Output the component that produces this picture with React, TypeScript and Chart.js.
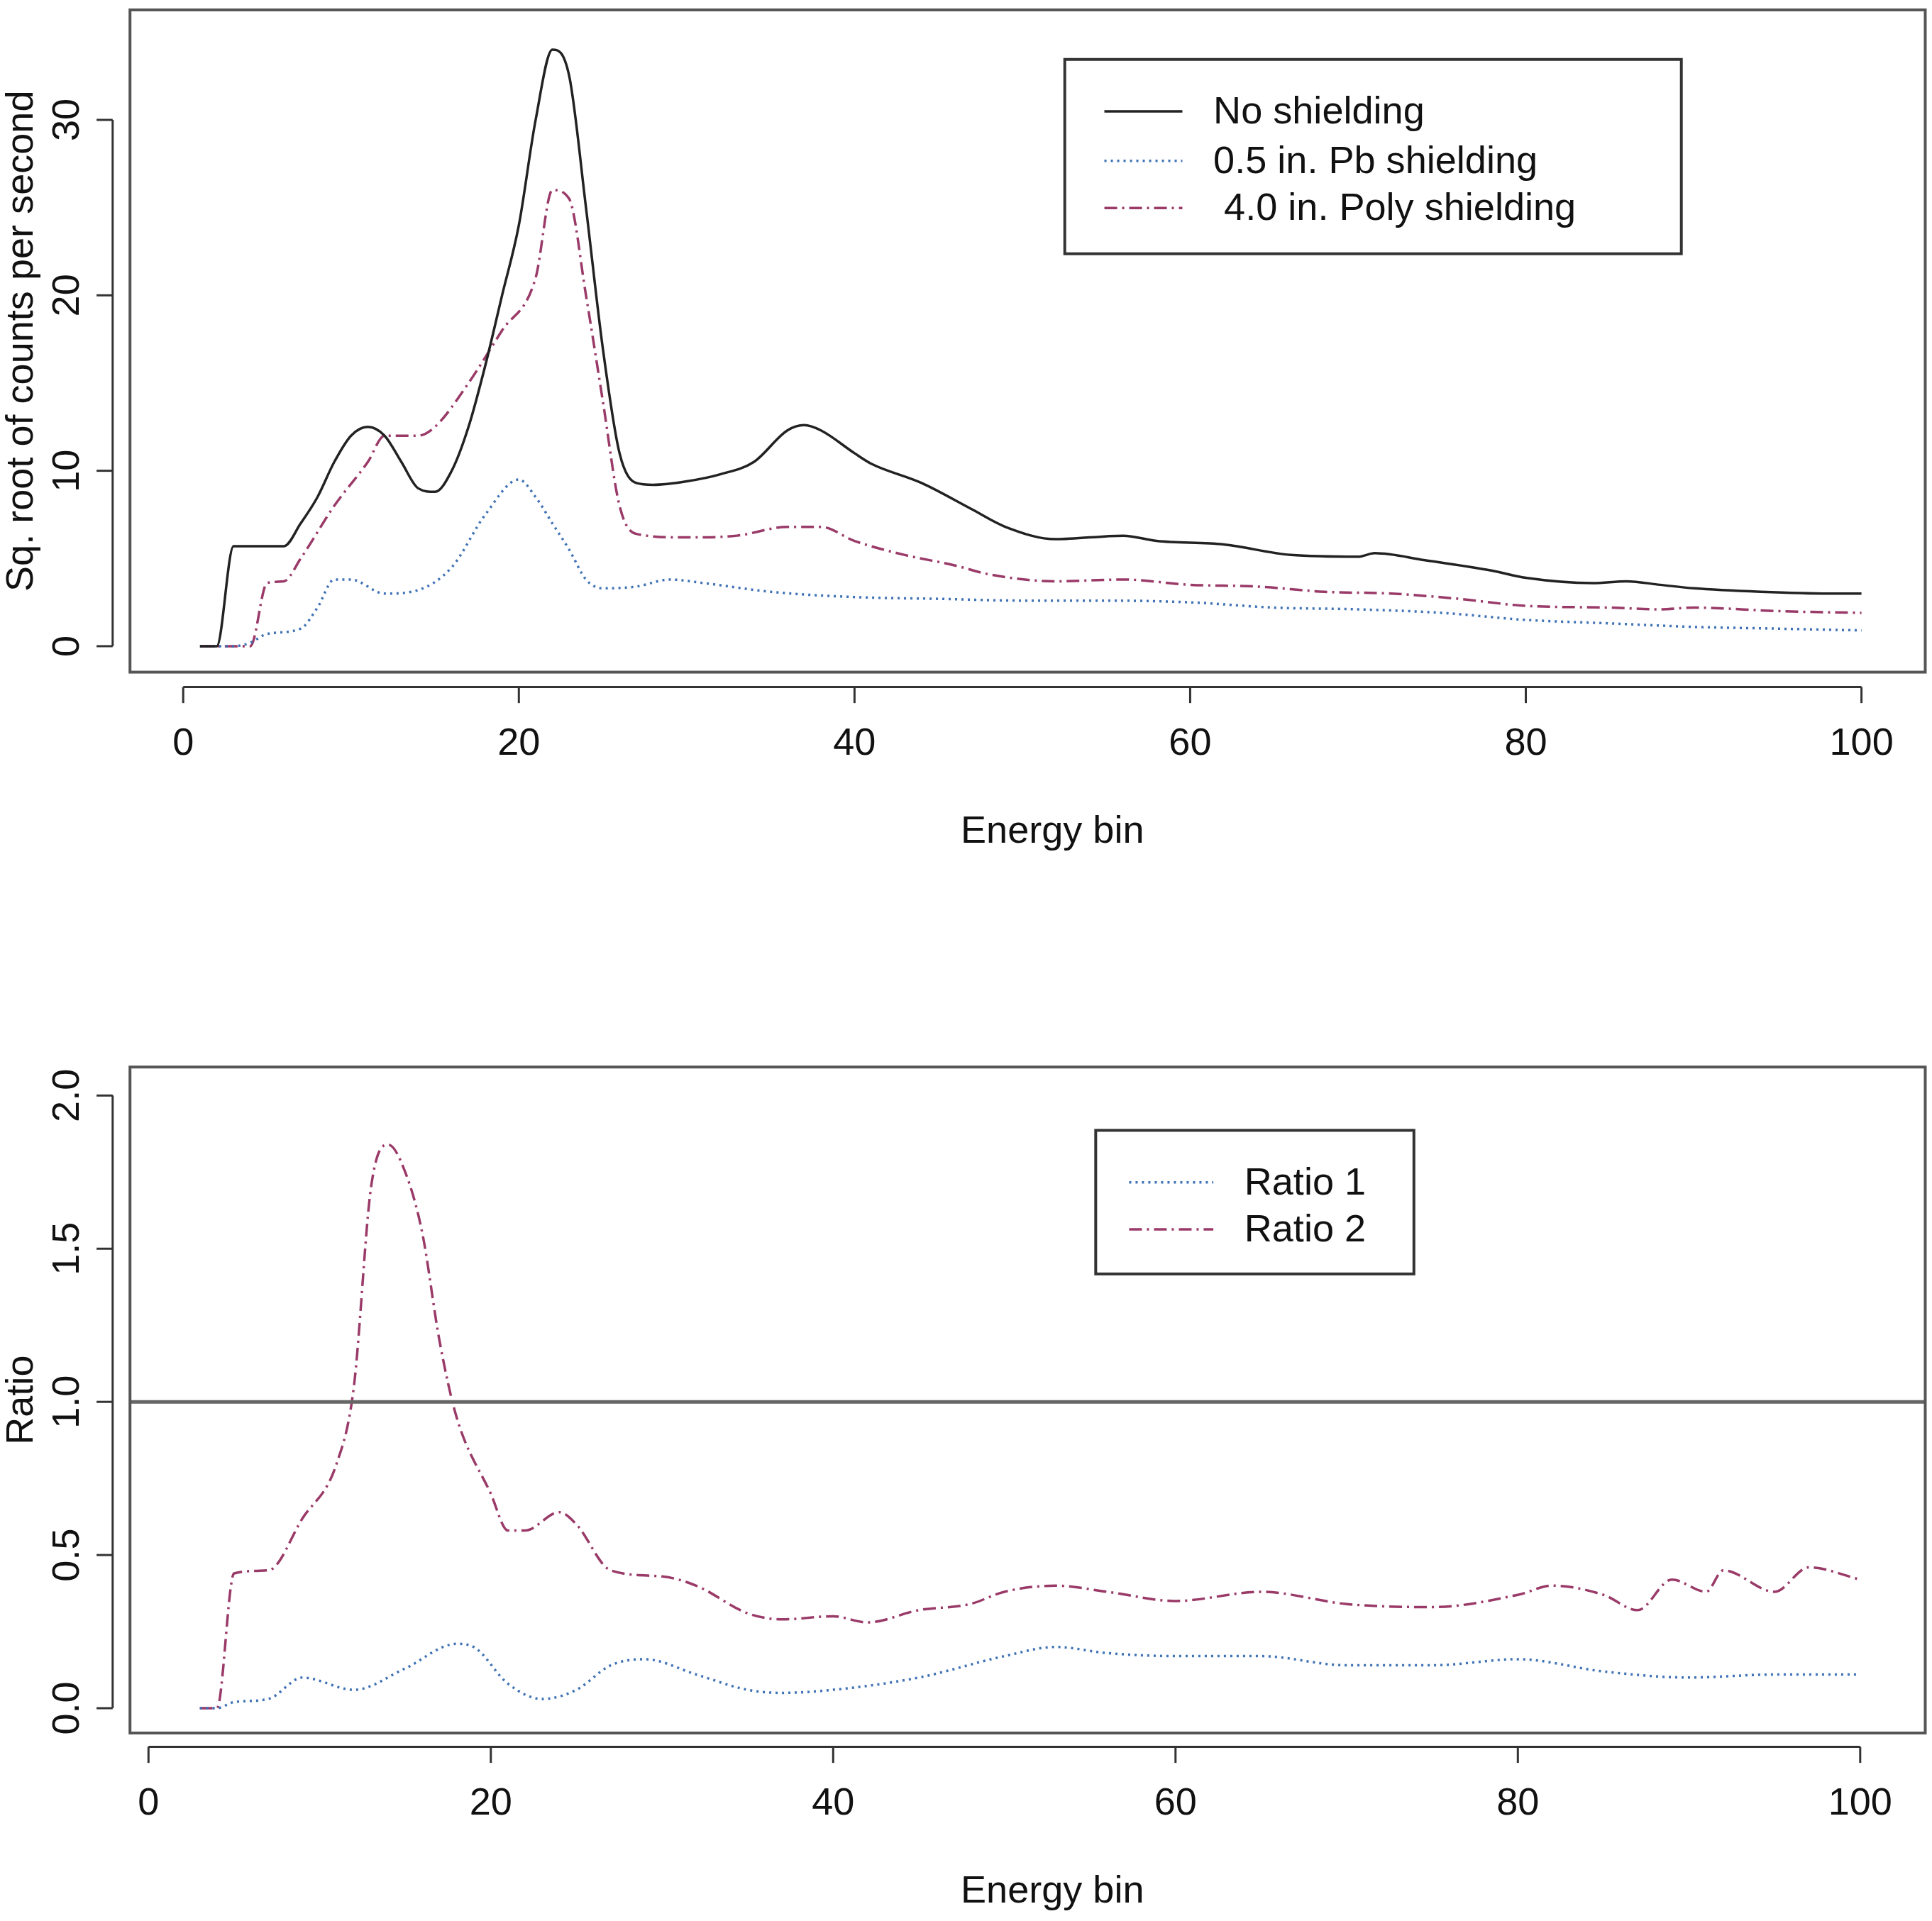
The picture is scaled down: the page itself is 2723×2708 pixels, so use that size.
import React, { useEffect, useRef } from "react";
import { Chart, registerables } from "chart.js";
Chart.register(...registerables);

const S = 1.745;
const FONT = "Liberation Sans, Arial, sans-serif";

// Top panel data
const noShieldX = [1,2,3,4,5,6,7,8,9,10,11,12,13,14,15,16,17,18,19,20,21,22,23,24,25,26,27,28,30,32,34,36,37,38,40,41,44,47,49,52,56,58,62,66,70,71,74,78,80,84,86,88,90,94,98,100];
const noShieldY = [0,0,5.7,5.7,5.7,5.7,7,8.5,10.5,12,12.5,12,10.5,9,8.8,10,12.5,16,20,24,30,34,32.5,25,17,11,9.3,9.2,9.4,9.8,10.5,12.3,12.6,12.3,11,10.4,9.3,7.8,6.8,6.1,6.3,6,5.8,5.2,5.1,5.3,4.9,4.3,3.9,3.6,3.7,3.5,3.3,3.1,3.0,3.0];
const pbX = [1,3,4,5,7,8,9,10,12,14,16,18,20,21,22,23,24,25,27,29,31,35,40,45,50,55,60,65,70,75,80,85,90,95,100];
const pbY = [0,0,0.2,0.7,1,2.2,3.8,3.8,3,3.2,4.5,7.5,9.5,8.5,7,5.5,3.8,3.3,3.4,3.8,3.6,3.1,2.8,2.7,2.6,2.6,2.5,2.2,2.1,1.9,1.5,1.3,1.1,1.0,0.9];
const polyX = [1,4,5,6,7,9,11,12,14,15,17,19,21,22,23,24,25,26,27,30,33,36,38,40,43,46,48,52,56,60,64,68,72,76,80,85,88,90,95,100];
const polyY = [0,0,3.6,3.7,5,8,10.5,12,12,12.5,15,18,21,26,25.5,20,14,8,6.4,6.2,6.3,6.8,6.8,6.0,5.2,4.6,4.1,3.7,3.8,3.5,3.4,3.1,3.0,2.7,2.3,2.2,2.1,2.2,2.0,1.9];

// Bottom panel data
const r1X = [3,4,5,7,9,12,15,18,19,21,23,25,27,29,32,35,37,40,45,50,53,56,60,65,70,75,80,85,90,95,100];
const r1Y = [0,0,0.02,0.03,0.1,0.06,0.13,0.21,0.2,0.08,0.03,0.06,0.14,0.16,0.11,0.06,0.05,0.06,0.1,0.17,0.2,0.18,0.17,0.17,0.14,0.14,0.16,0.12,0.1,0.11,0.11];
const r2X = [3,4,5,7,9,11,12,13,14,15,16,17,18,20,21,22,24,25,27,30,32,35,37,40,42,45,48,50,53,56,60,65,70,75,80,82,85,87,89,91,92,95,97,100];
const r2Y = [0,0,0.44,0.45,0.62,0.8,1.05,1.7,1.84,1.75,1.55,1.2,0.95,0.7,0.58,0.58,0.64,0.6,0.45,0.43,0.4,0.31,0.29,0.3,0.28,0.32,0.34,0.38,0.4,0.38,0.35,0.38,0.34,0.33,0.37,0.4,0.37,0.32,0.42,0.38,0.45,0.38,0.46,0.42];

const topXTicks = [0,20,40,60,80,100];
const topYTicks = [0,10,20,30];
const botXTicks = [0,20,40,60,80,100];
const botYTicks = [0,0.5,1.0,1.5,2.0];
const botYLabels = ["0.0","0.5","1.0","1.5","2.0"];

const BLACK = "#222222";
const BLUE = "#3f72b5";
const PURPLE = "#9a3a68";
const DOT = [3, 6];
const DASHDOT = [18, 7, 3, 7];

const zip = (xs: number[], ys: number[]) => xs.map((x, i) => ({ x, y: ys[i] }));

type Leg = { label: string; color: string; dash: number[] };
type Cfg = {
  width: number; height: number;
  area: { l: number; r: number; t: number; b: number };
  xmin: number; xmax: number; ymin: number; ymax: number;
  xTicks: number[]; yTicks: number[]; yLabels: string[];
  xAxisLineY: number; yAxisLineX: number;
  yLabel: string; yLabelX: number;
  legend: { l: number; t: number; r: number; b: number; lineX0: number; lineX1: number; textX: number; rows: number[]; items: Leg[] };
  datasets: any[];
  hline?: number;
};

function makePlugin(c: Cfg) {
  return {
    id: "rstyle",
    afterDatasetsDraw(chart: any) {
      const ctx = chart.ctx;
      const xs = chart.scales.x, ys = chart.scales.y;
      const a = chart.chartArea;
      ctx.save();
      if (c.hline !== undefined) {
        ctx.strokeStyle = "#666"; ctx.lineWidth = 5; ctx.setLineDash([]);
        const y = ys.getPixelForValue(c.hline);
        ctx.beginPath(); ctx.moveTo(a.left, y); ctx.lineTo(a.right, y); ctx.stroke();
      }
      ctx.strokeStyle = "#555"; ctx.lineWidth = 4; ctx.setLineDash([]);
      ctx.strokeRect(a.left, a.top, a.right - a.left, a.bottom - a.top);
      ctx.strokeStyle = "#333"; ctx.lineWidth = 3;
      const xl = c.xAxisLineY * S;
      ctx.beginPath();
      ctx.moveTo(xs.getPixelForValue(c.xTicks[0]), xl);
      ctx.lineTo(xs.getPixelForValue(c.xTicks[c.xTicks.length - 1]), xl);
      ctx.stroke();
      ctx.fillStyle = "#111"; ctx.font = `${31 * S}px ${FONT}`;
      ctx.textAlign = "center"; ctx.textBaseline = "middle";
      c.xTicks.forEach((t) => {
        const px = xs.getPixelForValue(t);
        ctx.beginPath(); ctx.moveTo(px, xl); ctx.lineTo(px, xl + 13 * S); ctx.stroke();
        ctx.fillText(String(t), px, xl + 46 * S);
      });
      ctx.fillText("Energy bin", (a.left + a.right) / 2 + 20 * S, xl + 117 * S);
      const yl = c.yAxisLineX * S;
      ctx.beginPath();
      ctx.moveTo(yl, ys.getPixelForValue(c.yTicks[0]));
      ctx.lineTo(yl, ys.getPixelForValue(c.yTicks[c.yTicks.length - 1]));
      ctx.stroke();
      c.yTicks.forEach((t, i) => {
        const py = ys.getPixelForValue(t);
        ctx.beginPath(); ctx.moveTo(yl, py); ctx.lineTo(yl - 13 * S, py); ctx.stroke();
        ctx.save(); ctx.translate(yl - 36 * S, py); ctx.rotate(-Math.PI / 2);
        ctx.fillText(c.yLabels[i], 0, 0); ctx.restore();
      });
      ctx.save(); ctx.translate(c.yLabelX * S, (a.top + a.bottom) / 2); ctx.rotate(-Math.PI / 2);
      ctx.fillText(c.yLabel, 0, 0); ctx.restore();
      const L = c.legend;
      ctx.fillStyle = "#fff";
      ctx.fillRect(L.l * S, L.t * S, (L.r - L.l) * S, (L.b - L.t) * S);
      ctx.strokeStyle = "#333"; ctx.lineWidth = 4;
      ctx.strokeRect(L.l * S, L.t * S, (L.r - L.l) * S, (L.b - L.t) * S);
      ctx.textAlign = "left";
      L.items.forEach((it, i) => {
        const y = L.rows[i] * S;
        ctx.strokeStyle = it.color; ctx.lineWidth = 3.5; ctx.setLineDash(it.dash);
        ctx.beginPath(); ctx.moveTo(L.lineX0 * S, y); ctx.lineTo(L.lineX1 * S, y); ctx.stroke();
        ctx.setLineDash([]);
        ctx.fillStyle = "#111";
        ctx.fillText(it.label, L.textX * S, y + 2);
      });
      ctx.restore();
    },
  };
}

function Panel({ c }: { c: Cfg }) {
  const ref = useRef<HTMLCanvasElement>(null);
  useEffect(() => {
    const ch = new Chart(ref.current!, {
      type: "line",
      data: { datasets: c.datasets },
      options: {
        animation: false, responsive: false, devicePixelRatio: 1,
        layout: { padding: { left: c.area.l, right: c.width - c.area.r, top: c.area.t, bottom: c.height - c.area.b } },
        plugins: { legend: { display: false }, tooltip: { enabled: false } },
        elements: { point: { radius: 0 }, line: { cubicInterpolationMode: "monotone", borderWidth: 3.5 } },
        scales: {
          x: { type: "linear", min: c.xmin, max: c.xmax, display: false },
          y: { type: "linear", min: c.ymin, max: c.ymax, display: false },
        },
      },
      plugins: [makePlugin(c)],
    });
    return () => ch.destroy();
  }, []);
  return <canvas ref={ref} width={c.width} height={c.height} style={{ display: "block", width: c.width, height: c.height }} />;
}

const ds = (label: string, xs: number[], ys: number[], color: string, dash: number[]) => ({
  label, data: zip(xs, ys), borderColor: color, borderDash: dash, fill: false,
});

const topCfg: Cfg = {
  width: 2723, height: 1220,
  area: { l: 105 * S, r: 1555 * S, t: 8 * S, b: 543 * S },
  xmin: -3.17, xmax: 103.8, ymin: -1.48, ymax: 36.27,
  xTicks: topXTicks, yTicks: topYTicks, yLabels: topYTicks.map(String),
  xAxisLineY: 555, yAxisLineX: 91, yLabel: "Sq. root of counts per second", yLabelX: 18,
  legend: { l: 860, t: 48, r: 1358, b: 205, lineX0: 892, lineX1: 955, textX: 980, rows: [90, 130, 168],
    items: [
      { label: "No shielding", color: BLACK, dash: [] },
      { label: "0.5 in. Pb shielding", color: BLUE, dash: DOT },
      { label: " 4.0 in. Poly shielding", color: PURPLE, dash: DASHDOT },
    ] },
  datasets: [
    ds("No shielding", noShieldX, noShieldY, BLACK, []),
    ds("Pb", pbX, pbY, BLUE, DOT),
    ds("Poly", polyX, polyY, PURPLE, DASHDOT),
  ],
};

const botCfg: Cfg = {
  width: 2723, height: 1488,
  area: { l: 105 * S, r: 1555 * S, t: 862 * S - 1220, b: 1400 * S - 1220 },
  xmin: -1.08, xmax: 103.8, ymin: -0.081, ymax: 2.093,
  xTicks: botXTicks, yTicks: botYTicks, yLabels: botYLabels,
  xAxisLineY: 1412 - 700, yAxisLineX: 91, yLabel: "Ratio", yLabelX: 18,
  legend: { l: 885, t: 914 - 700, r: 1142, b: 1030 - 700, lineX0: 912, lineX1: 980, textX: 1005, rows: [956 - 700, 994 - 700],
    items: [
      { label: "Ratio 1", color: BLUE, dash: DOT },
      { label: "Ratio 2", color: PURPLE, dash: DASHDOT },
    ] },
  datasets: [
    ds("Ratio 1", r1X, r1Y, BLUE, DOT),
    ds("Ratio 2", r2X, r2Y, PURPLE, DASHDOT),
  ],
  hline: 1,
};

export default function App() {
  useEffect(() => { document.body.style.margin = "0"; document.body.style.background = "#fff"; }, []);
  return (
    <div style={{ background: "#fff" }}>
      <Panel c={topCfg} />
      <Panel c={botCfg} />
    </div>
  );
}
